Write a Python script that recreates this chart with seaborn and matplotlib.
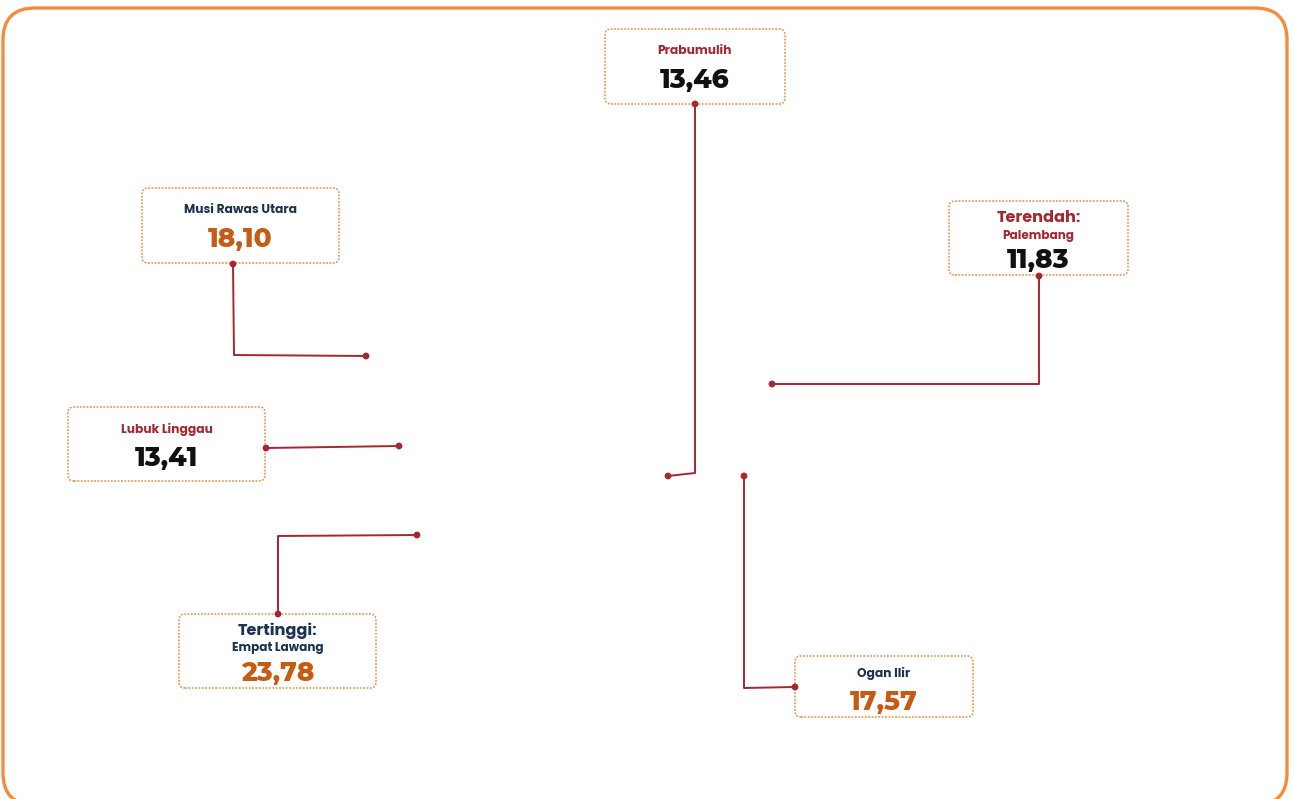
import matplotlib
matplotlib.use("Agg")
import matplotlib.pyplot as plt
from matplotlib.patches import FancyBboxPatch
import seaborn as sns
import pandas as pd

# ---- data ----
regions = ["Prabumulih", "Musi Rawas Utara", "Palembang", "Lubuk Linggau", "Empat Lawang", "Ogan Ilir"]
values = [13.46, 18.10, 11.83, 13.41, 23.78, 17.57]
threshold = 15.0

# ---- layout (pixel coordinates, y downward) ----
boxes = [(605, 29, 785, 104), (142, 188, 339, 263), (949, 201, 1128, 275),
         (68, 407, 265, 481), (179, 614, 376, 688), (795, 656, 973, 717)]
leader_x = [[695, 695, 668], [233, 234, 366], [1039, 1039, 772],
            [266, 399], [278, 278, 417], [795, 744, 744]]
leader_y = [[104, 473, 476], [264, 355, 356], [276, 384, 384],
            [448, 446], [614, 536, 535], [687, 688, 476]]

W, H = 1293, 799
RED = "#A8262E"
NAVY = "#1B3350"
ORANGE = "#C65C14"
BLACK = "#111111"
BOXEDGE = "#EE8E42"
FRAME = "#F58B3C"

sns.set_theme(style="white")
plt.rcParams["font.family"] = ["Poppins", "DejaVu Sans"]
VALFONT = ["Montserrat Alternates", "Poppins", "DejaVu Sans"]

fig = plt.figure(figsize=(W / 100, H / 100), dpi=100)

# frame axes (normal orientation, pixel units)
fax = fig.add_axes([0, 0, 1, 1])
fax.set_xlim(0, W)
fax.set_ylim(0, H)
fax.axis("off")
R = 32
fx0, fx1, ftop, fbot = 3, 1287, 8, 805
frame = FancyBboxPatch((fx0 + R, H - fbot + R), (fx1 - fx0) - 2 * R, (fbot - ftop) - 2 * R,
                       boxstyle=f"round,pad={R}", fc="none", ec=FRAME, lw=2.4,
                       clip_on=False)
fax.add_patch(frame)

ax = fig.add_axes([0, 0, 1, 1])
ax.set_xlim(0, W)
ax.set_ylim(H, 0)
ax.axis("off")
ax.patch.set_alpha(0)

vmax, vmin = max(values), min(values)

# leader lines
for xs, ys in zip(leader_x, leader_y):
    ax.plot(xs, ys, color=RED, lw=1.4, zorder=2, solid_capstyle="butt")

# end dots
dots = pd.DataFrame({
    "x": [p for xs in leader_x for p in (xs[0], xs[-1])],
    "y": [p for ys in leader_y for p in (ys[0], ys[-1])],
})
sns.scatterplot(data=dots, x="x", y="y", ax=ax, color=RED, s=24,
                edgecolor="none", zorder=6, legend=False)
ax.set_xlabel("")
ax.set_ylabel("")

# boxes + text
for name, val, (x0, y0, x1, y1) in zip(regions, values, boxes):
    r = 6
    box = FancyBboxPatch((x0 + r, H - y1 + r), (x1 - x0) - 2 * r, (y1 - y0) - 2 * r,
                         boxstyle=f"round,pad={r}", fc="white", ec=BOXEDGE,
                         lw=1.1, ls=(0, (1.2, 1.0)), zorder=3)
    fax.add_patch(box)
    cx = (x0 + x1) / 2
    high = val > threshold
    lab_col = NAVY if high else RED
    val_col = ORANGE if high else BLACK
    txt = f"{val:.2f}".replace(".", ",")
    if val == vmax or val == vmin:
        head = "Tertinggi:" if val == vmax else "Terendah:"
        ax.text(cx, y0 + 17, head, ha="center", va="center", fontsize=11.6,
                fontweight="bold", color=lab_col, zorder=5)
        ax.text(cx, y0 + 34.5, name, ha="center", va="center", fontsize=8.6,
                fontweight="bold", color=lab_col, zorder=5)
        ax.text(cx, y0 + 59, txt, ha="center", va="center", fontsize=19,
                fontweight=800, color=val_col, zorder=5, family=VALFONT)
    else:
        tall = (y1 - y0) > 70
        ly = y0 + 22 if tall else y0 + 17
        vy = y0 + 51 if tall else y0 + 46
        ax.text(cx, ly, name, ha="center", va="center", fontsize=8.8,
                fontweight="bold", color=lab_col, zorder=5)
        ax.text(cx, vy, txt, ha="center", va="center", fontsize=19,
                fontweight=800, color=val_col, zorder=5, family=VALFONT)

fig.savefig("out.png", dpi=100, facecolor="white")
